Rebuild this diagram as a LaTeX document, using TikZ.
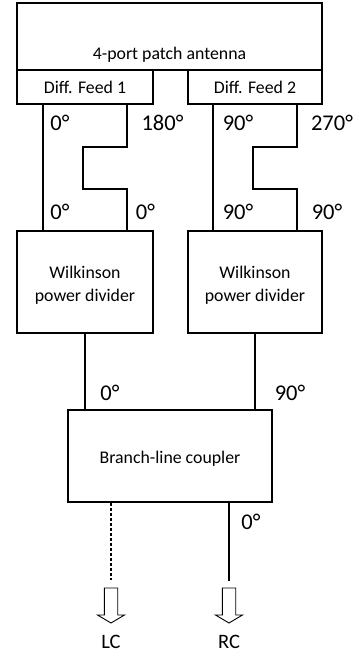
\documentclass[tikz,border=0pt]{standalone}
\usepackage{fontspec}
\setmainfont{Carlito}
\usetikzlibrary{calc}

\tikzset{
  wire/.style={line width=1.6pt, line cap=rect},
  blockbox/.style={draw, line width=1.6pt, inner sep=0pt},
  boxtext/.style={font=\fontsize{17.8}{23}\selectfont, align=center, inner sep=0pt},
  phase/.style={font=\fontsize{22.5}{26}\selectfont, inner sep=0pt},
  portlabel/.style={font=\fontsize{20.5}{24}\selectfont, inner sep=0pt},
  outarrow/.pic={
    \draw[line width=0.9pt, line join=miter]
      (-6.7,0) -- (-6.7,27) -- (-13.5,27) -- (0,35) -- (13.5,27)
      -- (6.7,27) -- (6.7,0) -- cycle;
  }
}

\begin{document}
\begin{tikzpicture}[x=1pt, y=-1pt]
  \useasboundingbox (0,0) rectangle (357,655);

  % antenna and its two differential feeds
  \node[blockbox, minimum width=305pt, minimum height=67pt] (ant) at (169.5,36.5) {};
  \node[boxtext, anchor=base] (anttxt) at (169.5,59.3) {4-port patch antenna};
  \node[blockbox, minimum width=136pt, minimum height=34pt] (f1) at (85,87) {};
  \node[boxtext] (f1txt) at (85,87.5) {Diff. Feed 1};
  \node[blockbox, minimum width=134pt, minimum height=34pt] (f2) at (255,87) {};
  \node[boxtext] (f2txt) at (255,87.5) {Diff. Feed 2};

  % Wilkinson dividers
  \node[blockbox, minimum width=136pt, minimum height=102pt] (w1) at (85,282) {};
  \node[boxtext] (w1txt) at (85,285) {Wilkinson\\power divider};
  \node[blockbox, minimum width=134pt, minimum height=102pt] (w2) at (255,282) {};
  \node[boxtext] (w2txt) at (255,285) {Wilkinson\\power divider};

  % branch-line coupler
  \node[blockbox, minimum width=204pt, minimum height=92pt] (bl) at (170,456) {};
  \node[boxtext] (bltxt) at (170,458.5) {Branch-line coupler};

  % feed 1 lines (straight and delay)
  \draw[wire] ($(f1.south)+(-42,0)$) -- ($(w1.north)+(-42,0)$);
  \draw[wire] ($(f1.south)+(42,0)$) -- ++(0,42) -- ++(-44,0) -- ++(0,42) -- ++(44,0)
    -- ($(w1.north)+(42,0)$);

  % feed 2 lines (straight and delay)
  \draw[wire] ($(f2.south)+(-42,0)$) -- ($(w2.north)+(-42,0)$);
  \draw[wire] ($(f2.south)+(42,0)$) -- ++(0,42) -- ++(-44,0) -- ++(0,42) -- ++(44,0)
    -- ($(w2.north)+(42,0)$);

  % dividers to coupler
  \draw[wire] (w1.south) -- (w1.south |- bl.north);
  \draw[wire] (w2.south) -- (w2.south |- bl.north);

  % coupler outputs
  \coordinate (lcend) at (111,580);
  \coordinate (rcend) at (229,580);
  \draw[line width=1.6pt, dash pattern=on 3pt off 2pt] (bl.south -| lcend) -- (lcend);
  \draw[wire] (bl.south -| rcend) -- (rcend);
  \pic at (111,588) {outarrow};
  \pic at (229,588) {outarrow};
  \node[portlabel] (lc) at (111,641.7) {LC};
  \node[portlabel] (rc) at (229,641.7) {RC};

  % phase labels
  \node[phase] (p1) at (60,122.7) {0°};
  \node[phase] (p2) at (162.5,122.7) {180°};
  \node[phase] (p3) at (238,122.7) {90°};
  \node[phase] (p4) at (332,122.7) {270°};
  \node[phase] (p5) at (60,211.7) {0°};
  \node[phase] (p6) at (145.5,211.7) {0°};
  \node[phase] (p7) at (238,211.7) {90°};
  \node[phase] (p8) at (327,211.7) {90°};
  \node[phase] (p9) at (110,393.3) {0°};
  \node[phase] (p10) at (290,393.3) {90°};
  \node[phase] (p11) at (251,521.7) {0°};
\end{tikzpicture}
\end{document}
